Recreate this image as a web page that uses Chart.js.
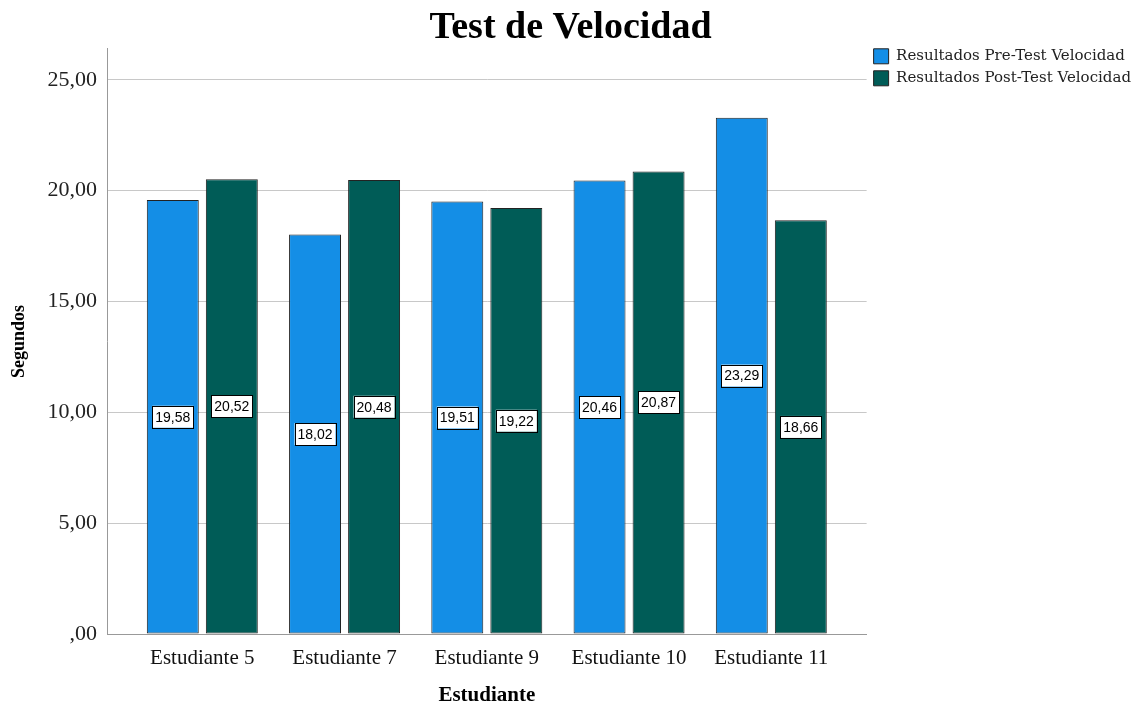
<!DOCTYPE html>
<html>
<head>
<meta charset="utf-8">
<script src="https://cdn.jsdelivr.net/npm/chart.js@4.4.1/dist/chart.umd.min.js"></script>
<style>
  body { margin: 0; background: #fff; }
  #wrap { width: 1133px; height: 706px; }
</style>
</head>
<body>
<div id="wrap"><canvas id="myChart" width="1133" height="706"></canvas></div>
<script>
var categories = ["Estudiante 5", "Estudiante 7", "Estudiante 9", "Estudiante 10", "Estudiante 11"];
var preTest  = [19.58, 18.02, 19.51, 20.46, 23.29];
var postTest = [20.52, 20.48, 19.22, 20.87, 18.66];
var yTicks   = [0, 5, 10, 15, 20, 25];

function comma(v) {
  if (v === 0) return ",00";
  return v.toFixed(2).replace(".", ",");
}

function toPoints(arr) {
  var pts = [];
  for (var i = 0; i < arr.length; i++) {
    pts.push({ x: i, y: arr[i] });
  }
  return pts;
}

// white boxes with the value, in the middle of each bar
var valueLabels = {
  id: "valueLabels",
  afterDatasetsDraw: function (chart) {
    var ctx = chart.ctx;
    ctx.save();
    ctx.font = "14px 'Liberation Sans', Arial, sans-serif";
    ctx.textAlign = "center";
    ctx.textBaseline = "middle";
    chart.data.datasets.forEach(function (ds, di) {
      var meta = chart.getDatasetMeta(di);
      meta.data.forEach(function (bar, i) {
        var txt = comma(ds.data[i].y);
        var w = ctx.measureText(txt).width + 6;
        var h = 22;
        var cx = bar.x;
        var cy = (bar.y + bar.base) / 2;
        ctx.fillStyle = "#fff";
        ctx.fillRect(cx - w / 2, cy - h / 2, w, h);
        ctx.strokeStyle = "#000";
        ctx.lineWidth = 1;
        ctx.strokeRect(Math.round(cx - w / 2) + 0.5, Math.round(cy - h / 2) + 0.5, Math.round(w), h);
        ctx.fillStyle = "#000";
        ctx.fillText(txt, cx, cy + 1);
      });
    });
    ctx.restore();
  }
};

// legend sits a bit higher, level with the top of the axis
var legendUp = {
  id: "legendUp",
  afterLayout: function (chart) {
    if (chart.legend) {
      chart.legend.top -= 7;
      chart.legend.bottom -= 7;
    }
  }
};

new Chart("myChart", {
  type: "bar",
  data: {
    datasets: [{
      label: "Resultados Pre-Test Velocidad",
      data: toPoints(preTest),
      backgroundColor: "#148ee6",
      borderColor: "#222",
      borderWidth: 1,
      borderSkipped: false
    }, {
      label: "Resultados Post-Test Velocidad",
      data: toPoints(postTest),
      backgroundColor: "#005c57",
      borderColor: "#222",
      borderWidth: 1,
      borderSkipped: false
    }]
  },
  plugins: [valueLabels, legendUp],
  options: {
    responsive: false,
    animation: false,
    layout: { padding: { left: 0, right: -8, top: 0, bottom: 0 } },
    categoryPercentage: 0.83,
    barPercentage: 0.88,
    plugins: {
      title: {
        display: true,
        text: "Test de Velocidad",
        color: "#000",
        font: { family: "'Liberation Serif', 'Times New Roman', serif", size: 38, weight: "bold", lineHeight: 1.1 },
        padding: { top: 7, bottom: 0 }
      },
      legend: {
        position: "right",
        align: "start",
        fullSize: false,
        labels: {
          boxWidth: 15,
          boxHeight: 15,
          padding: 7,
          color: "#222",
          font: { family: "'DejaVu Serif', serif", size: 15 }
        }
      },
      tooltip: { enabled: false }
    },
    scales: {
      x: {
        type: "linear",
        offset: false,
        min: -0.67,
        max: 4.67,
        grid: { display: false },
        border: { display: true, color: "#999", width: 1 },
        afterBuildTicks: function (s) {
          s.ticks = categories.map(function (c, i) { return { value: i }; });
        },
        afterFit: function (s) { s.height = 72; },
        ticks: {
          color: "#111",
          padding: 4,
          font: { family: "'Liberation Serif', 'Times New Roman', serif", size: 21 },
          callback: function (v) { return categories[v]; }
        },
        title: {
          display: true,
          text: "Estudiante",
          color: "#000",
          font: { family: "'Liberation Serif', 'Times New Roman', serif", size: 21, weight: "bold", lineHeight: 1 },
          padding: { top: 0, bottom: 0 }
        }
      },
      y: {
        min: 0,
        max: 26.4,
        grid: { color: "#c8c8c8", lineWidth: 1, drawTicks: false },
        border: { display: true, color: "#999", width: 1 },
        afterBuildTicks: function (s) {
          s.ticks = yTicks.map(function (v) { return { value: v }; });
        },
        afterFit: function (s) { s.width = 107; },
        ticks: {
          color: "#222",
          padding: 10,
          font: { family: "'Liberation Serif', 'Times New Roman', serif", size: 22 },
          callback: function (v) { return comma(v); }
        },
        title: {
          display: true,
          text: "Segundos",
          color: "#000",
          font: { family: "'Liberation Serif', 'Times New Roman', serif", size: 18, weight: "bold" },
          padding: { top: 9, bottom: 0 }
        }
      }
    }
  }
});
</script>
</body>
</html>
